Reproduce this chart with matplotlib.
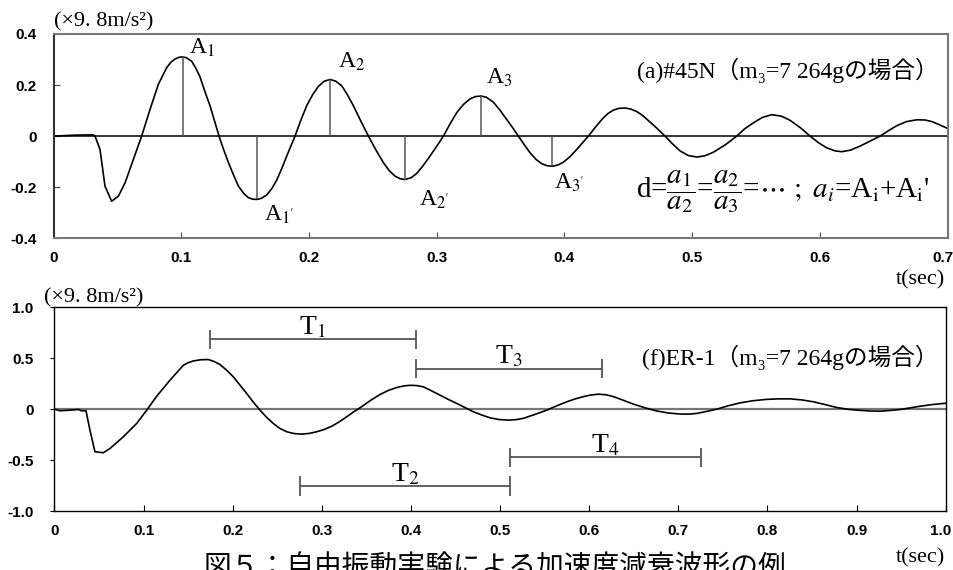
import numpy as np
import matplotlib
matplotlib.use('Agg')
import matplotlib.pyplot as plt
from matplotlib.transforms import ScaledTranslation

plt.rcParams['mathtext.fontset'] = 'stix'

# (a) #45N waveform
t_a = [0, 0.018, 0.031, 0.0325, 0.0364, 0.0403, 0.0455, 0.0508, 0.056, 0.0625,
       0.069, 0.0756, 0.0821, 0.0886, 0.092, 0.0952, 0.0985, 0.101, 0.104, 0.1082,
       0.1115, 0.1147, 0.1185, 0.1226, 0.126, 0.1296, 0.133, 0.137, 0.141, 0.1448,
       0.149, 0.1526, 0.156, 0.1596, 0.163, 0.167, 0.171, 0.1748, 0.1787, 0.1826,
       0.1891, 0.1935, 0.1983, 0.203, 0.2074, 0.212, 0.2166, 0.221, 0.2257, 0.230,
       0.2349, 0.2405, 0.2466, 0.2525, 0.2583, 0.263, 0.2675, 0.2715, 0.2753, 0.28,
       0.2844, 0.2895, 0.2948, 0.300, 0.3053, 0.3105, 0.3157, 0.321, 0.3262, 0.3305,
       0.3348, 0.339, 0.3444, 0.3495, 0.3549, 0.3595, 0.364, 0.3685, 0.3731, 0.378,
       0.3823, 0.3865, 0.3906, 0.395, 0.3993, 0.4045, 0.4097, 0.4142, 0.4188, 0.424,
       0.4293, 0.434, 0.4384, 0.443, 0.4475, 0.452, 0.4567, 0.461, 0.465, 0.472,
       0.4788, 0.485, 0.4906, 0.497, 0.5037, 0.51, 0.5167, 0.526, 0.535, 0.541,
       0.548, 0.555, 0.5624, 0.57, 0.5767, 0.585, 0.5924, 0.599, 0.6055, 0.612,
       0.6172, 0.624, 0.6316, 0.64, 0.6472, 0.654, 0.6603, 0.668, 0.676, 0.6825,
       0.6877, 0.6935, 0.6969, 0.7]
acc_a = [0, 0.004, 0.005, 0.0, -0.052, -0.196, -0.255, -0.235, -0.183, -0.091,
         0.0, 0.105, 0.203, 0.268, 0.29, 0.302, 0.309, 0.31, 0.307, 0.293,
         0.265, 0.232, 0.175, 0.118, 0.06, 0.0, -0.05, -0.104, -0.153, -0.196,
         -0.225, -0.241, -0.247, -0.248, -0.243, -0.23, -0.205, -0.172, -0.127, -0.078,
         0.0, 0.06, 0.12, 0.163, 0.195, 0.215, 0.222, 0.215, 0.197, 0.163,
         0.118, 0.06, 0.0, -0.055, -0.104, -0.136, -0.157, -0.167, -0.17, -0.163,
         -0.146, -0.115, -0.078, -0.04, 0.0, 0.048, 0.092, 0.124, 0.146, 0.155,
         0.157, 0.152, 0.133, 0.102, 0.065, 0.033, 0.0, -0.033, -0.065, -0.092,
         -0.108, -0.116, -0.118, -0.113, -0.102, -0.08, -0.052, -0.026, 0.0, 0.033,
         0.065, 0.088, 0.102, 0.109, 0.11, 0.106, 0.096, 0.082, 0.064, 0.033,
         0.0, -0.032, -0.058, -0.076, -0.082, -0.077, -0.063, -0.034, 0.0, 0.028,
         0.052, 0.073, 0.084, 0.078, 0.062, 0.032, 0.0, -0.026, -0.046, -0.058,
         -0.061, -0.055, -0.039, -0.018, 0.0, 0.022, 0.041, 0.057, 0.064, 0.063,
         0.057, 0.045, 0.037, 0.03]

# peaks A1..A3'
peak_t = [0.101, 0.1596, 0.2166, 0.2753, 0.3348, 0.3906]
peak_a = [0.31, -0.248, 0.222, -0.17, 0.157, -0.118]
peak_lab = ['A$_1$', "A$_{1'}$", 'A$_2$', "A$_{2'}$", 'A$_3$', "A$_{3'}$"]
lab_t = [0.106, 0.165, 0.223, 0.286, 0.339, 0.392]
lab_a = [0.302, -0.265, 0.247, -0.205, 0.186, -0.14]

# (f) ER-1 waveform
t_f = [0, 0.0062, 0.0174, 0.0268, 0.0305, 0.0354, 0.0398, 0.0454, 0.0548, 0.0623,
       0.0773, 0.0922, 0.1035, 0.1147, 0.1296, 0.1446, 0.150, 0.1558, 0.164, 0.1727,
       0.179, 0.1857, 0.193, 0.2007, 0.208, 0.2157, 0.223, 0.2306, 0.238, 0.2456,
       0.253, 0.2606, 0.269, 0.2774, 0.286, 0.2943, 0.3025, 0.3111, 0.3195, 0.3279,
       0.336, 0.3448, 0.355, 0.3653, 0.375, 0.384, 0.392, 0.399, 0.406, 0.414,
       0.423, 0.4327, 0.442, 0.4514, 0.461, 0.4701, 0.4795, 0.4888, 0.499, 0.5094,
       0.518, 0.5262, 0.539, 0.5524, 0.5636, 0.5748, 0.584, 0.5935, 0.602, 0.6104,
       0.619, 0.6272, 0.638, 0.6497, 0.663, 0.6758, 0.689, 0.702, 0.7115, 0.7207,
       0.732, 0.7432, 0.756, 0.7694, 0.784, 0.7993, 0.8125, 0.8255, 0.839, 0.8517,
       0.865, 0.8779, 0.891, 0.904, 0.915, 0.9265, 0.938, 0.949, 0.96, 0.9714,
       0.985, 0.9976, 1.0]
acc_f = [0, -0.016, -0.01, -0.003, -0.016, -0.016, -0.206, -0.418, -0.428, -0.386,
         -0.271, -0.141, -0.01, 0.127, 0.284, 0.431, 0.456, 0.473, 0.485, 0.487,
         0.468, 0.438, 0.384, 0.317, 0.237, 0.154, 0.07, -0.01, -0.08, -0.141,
         -0.19, -0.222, -0.24, -0.245, -0.238, -0.222, -0.2, -0.168, -0.125, -0.075,
         -0.025, 0.025, 0.088, 0.144, 0.185, 0.212, 0.228, 0.234, 0.232, 0.219,
         0.18, 0.137, 0.095, 0.056, 0.014, -0.026, -0.058, -0.085, -0.102, -0.108,
         -0.103, -0.09, -0.052, -0.01, 0.033, 0.072, 0.1, 0.123, 0.139, 0.147,
         0.141, 0.123, 0.088, 0.049, 0.012, -0.018, -0.038, -0.048, -0.049, -0.042,
         -0.022, 0.0, 0.033, 0.062, 0.083, 0.096, 0.101, 0.101, 0.09, 0.072,
         0.044, 0.016, -0.002, -0.012, -0.018, -0.02, -0.013, -0.003, 0.012, 0.029,
         0.045, 0.056, 0.058]

# period bars T1..T4: start, end, level
per_lab = ['T$_1$', 'T$_3$', 'T$_2$', 'T$_4$']
per_start = [0.174, 0.406, 0.2755, 0.5112]
per_end = [0.406, 0.614, 0.5112, 0.7252]
per_y = [0.686, 0.399, -0.755, -0.474]

serif = ['Liberation Serif', 'DejaVu Serif', 'Noto Sans CJK JP']
mserif = 'Liberation Serif'
tickfont = {'family': 'Liberation Sans', 'weight': 'bold', 'size': 11}

fig = plt.figure(figsize=(9.54, 5.7), dpi=100)
ax1 = fig.add_axes([0.0561, 0.582, 0.9371, 0.3584])
ax2 = fig.add_axes([0.0571, 0.1035, 0.9342, 0.3574])

# ---- top panel
ax1.plot(t_a, acc_a, color='black', lw=1.2)
ax1.axhline(0, color='black', lw=1.1)
ax1.vlines(peak_t, 0, peak_a, color='#555555', lw=1.1)
for i in range(len(peak_lab)):
    va = 'bottom' if peak_a[i] > 0 else 'top'
    ax1.text(lab_t[i], lab_a[i], peak_lab[i], family=mserif, fontsize=17, va=va, ha='left')
ax1.set_xlim(0, 0.7)
ax1.set_ylim(-0.4, 0.4)
ax1.set_xticks(np.arange(0, 0.71, 0.1))
ax1.set_xticklabels(['0', '0.1', '0.2', '0.3', '0.4', '0.5', '0.6', '0.7'], fontdict=tickfont)
ax1.set_yticks([-0.4, -0.2, 0, 0.2, 0.4])
ax1.set_yticklabels(['-0.4', '-0.2', '0', '0.2', '0.4'], fontdict=tickfont)
ax1.tick_params(axis='x', direction='in', length=4, pad=9, color='#444444')
ax1.tick_params(axis='y', direction='in', length=4, pad=12, color='#444444')
for s in ax1.spines.values():
    s.set_color('#777777')
    s.set_linewidth(1.5)
ax1.spines['left'].set_color('#333333')
ax1.text(0.693, 0.258, '(a)#45N（m₃=7 264gの場合）', family=serif, fontsize=17,
         ha='right', va='center')
ax1.text(0.686, -0.217,
         r"d=$\dfrac{a_1}{a_2}$=$\dfrac{a_2}{a_3}$=$\cdots\ ;\ a_i$=A$_\mathrm{i}$+A$_\mathrm{i}$'",
         family=mserif, fontsize=21, ha='right', va='center')
ax1.text(0.0, 1.01, '(×9. 8m/s²)', transform=ax1.transAxes, family=serif, fontsize=16,
         ha='left', va='bottom')

# ---- bottom panel
ax2.plot(t_f, acc_f, color='black', lw=1.2)
ax2.axhline(0, color='#777777', lw=1.6, zorder=1)
for i in range(len(per_lab)):
    ax2.hlines(per_y[i], per_start[i], per_end[i], color='#555555', lw=1.3)
    ax2.vlines([per_start[i], per_end[i]], per_y[i] - 0.095, per_y[i] + 0.095,
               color='#555555', lw=1.3)
    ax2.text((per_start[i] + per_end[i]) / 2, per_y[i] - 0.01, per_lab[i],
             family=mserif, fontsize=20, ha='center', va='bottom')
ax2.set_xlim(0, 1.0)
ax2.set_ylim(-1.0, 1.0)
ax2.set_xticks(np.arange(0, 1.01, 0.1))
ax2.set_xticklabels(['0', '0.1', '0.2', '0.3', '0.4', '0.5', '0.6', '0.7', '0.8', '0.9', '1.0'],
                    fontdict=tickfont)
ax2.set_yticks([-1.0, -0.5, 0, 0.5, 1.0])
ax2.set_yticklabels(['-1.0', '-0.5', '0', '0.5', '1.0'], fontdict=tickfont)
ax2.tick_params(axis='x', direction='in', length=4, pad=9)
ax2.tick_params(axis='y', direction='out', length=3, pad=12)
# keep the last x labels inside the picture
for ax in (ax1, ax2):
    last = ax.get_xticklabels()[-1]
    last.set_transform(last.get_transform() + ScaledTranslation(-0.05, 0, fig.dpi_scale_trans))
for s in ax2.spines.values():
    s.set_color('black')
    s.set_linewidth(1.0)
ax2.text(0.992, 0.51, '(f)ER-1（m₃=7 264gの場合）', family=serif, fontsize=17,
         ha='right', va='center')
ax2.text(-0.012, 1.0, '(×9. 8m/s²)', transform=ax2.transAxes, family=serif, fontsize=16,
         ha='left', va='bottom')

# axis units and caption
fig.text(0.991, 1 - 280 / 570, 't(sec)', family=serif, fontsize=16, ha='right', va='center')
fig.text(0.991, 1 - 558 / 570, 't(sec)', family=serif, fontsize=16, ha='right', va='center')
fig.text(0.519, 1 - 553 / 570, '図５：自由振動実験による加速度減衰波形の例',
         family=['Noto Sans CJK JP'], fontsize=20, ha='center', va='top')

fig.savefig('out.png', dpi=100)
